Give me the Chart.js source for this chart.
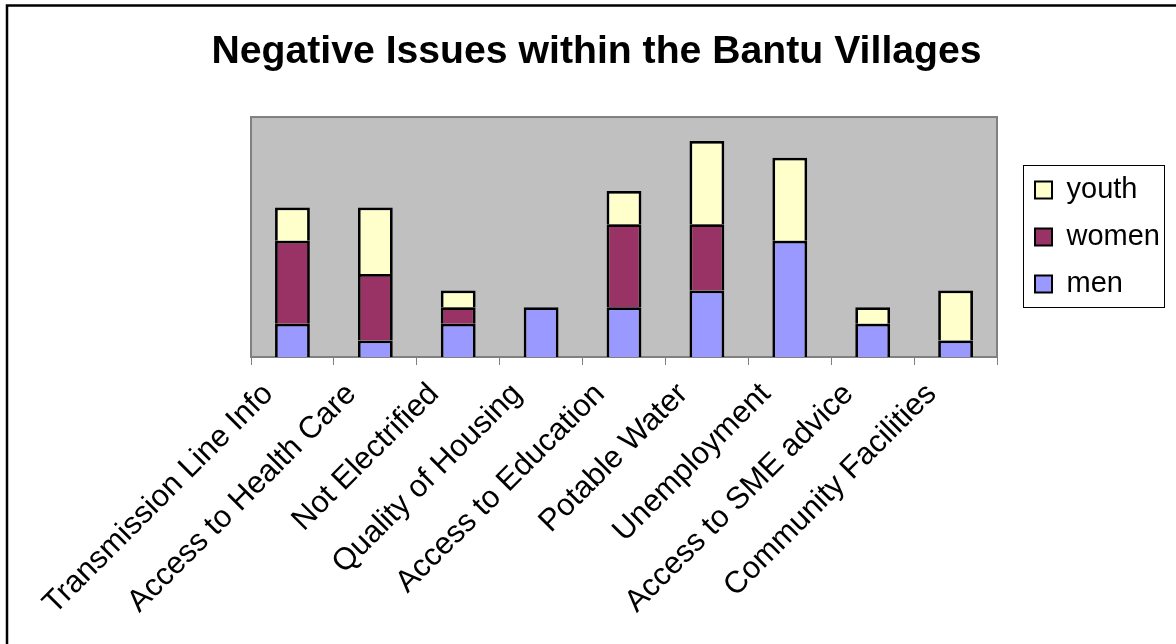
<!DOCTYPE html>
<html>
<head>
<meta charset="utf-8">
<script src="https://cdn.jsdelivr.net/npm/chart.js@4/dist/chart.umd.min.js"></script>
<style>
  html, body { margin: 0; padding: 0; background: #ffffff; }
  #wrap { width: 1176px; height: 644px; position: relative; }
</style>
</head>
<body>
<div id="wrap"><canvas id="c" width="1176" height="644"></canvas></div>
<script>
const titleText = "Negative Issues within the Bantu Villages";
const categories = [
  "Transmission Line Info",
  "Access to Health Care",
  "Not Electrified",
  "Quality of Housing",
  "Access to Education",
  "Potable Water",
  "Unemployment",
  "Access to SME advice",
  "Community Facilities"
];
const seriesNames = ["men", "women", "youth"];
const menValues   = [2, 1, 2, 3, 3, 4, 7, 2, 1];
const womenValues = [5, 4, 1, 0, 5, 4, 0, 0, 0];
const youthValues = [2, 4, 1, 0, 2, 5, 5, 1, 3];
const yMax = 14.45;

const FONT = "'Liberation Sans', Arial, sans-serif";

const framePlugin = {
  id: 'framePlugin',
  beforeDraw(chart) {
    const ctx = chart.ctx;
    ctx.save();
    ctx.fillStyle = '#ffffff';
    ctx.fillRect(0, 0, chart.width, chart.height);
    ctx.strokeStyle = '#000000';
    ctx.lineWidth = 2.5;
    ctx.beginPath();
    ctx.moveTo(7, chart.height + 10);
    ctx.lineTo(7, 5.5);
    ctx.lineTo(chart.width + 10, 5.5);
    ctx.stroke();
    ctx.restore();
  },
  beforeDatasetsDraw(chart) {
    const a = chart.chartArea;
    const ctx = chart.ctx;
    ctx.save();
    ctx.fillStyle = '#C0C0C0';
    ctx.fillRect(a.left, a.top, a.right - a.left, a.bottom - a.top);
    ctx.strokeStyle = '#808080';
    ctx.lineWidth = 2;
    ctx.strokeRect(a.left, a.top, a.right - a.left, a.bottom - a.top);
    ctx.restore();
  },
  afterDraw(chart) {
    const lg = chart.legend;
    if (!lg) return;
    const ctx = chart.ctx;
    ctx.save();
    ctx.strokeStyle = '#000000';
    ctx.lineWidth = 1;
    const midY = (lg.top + lg.bottom) / 2;
    ctx.strokeRect(Math.round(lg.left + 6) + 0.5, Math.round(midY - 72) + 0.5, 141, 142);
    ctx.restore();
  }
};

new Chart(document.getElementById('c'), {
  type: 'bar',
  data: {
    labels: categories,
    datasets: [
      { label: seriesNames[0], data: menValues,   backgroundColor: '#9999FF' },
      { label: seriesNames[1], data: womenValues, backgroundColor: '#993366' },
      { label: seriesNames[2], data: youthValues, backgroundColor: '#FFFFCC' }
    ]
  },
  options: {
    responsive: false,
    animation: false,
    devicePixelRatio: 1,
    layout: { padding: { left: 23, right: 6, top: 0, bottom: 0 } },
    datasets: {
      bar: {
        borderColor: '#000000',
        borderWidth: 2.75,
        borderSkipped: 'start',
        categoryPercentage: 1,
        barPercentage: 0.42
      }
    },
    scales: {
      x: {
        stacked: true,
        grid: {
          display: true,
          drawOnChartArea: false,
          drawTicks: true,
          tickLength: 8,
          offset: true,
          color: '#808080',
          lineWidth: 1
        },
        border: { display: true, color: '#808080', width: 1 },
        ticks: {
          autoSkip: false,
          minRotation: 45,
          maxRotation: 45,
          color: '#000000',
          padding: 11,
          labelOffset: -24,
          font: { family: FONT, size: 31 }
        },
        afterFit(scale) { scale.height = 287; }
      },
      y: {
        stacked: true,
        position: 'left',
        min: 0,
        max: yMax,
        grid: { display: false },
        border: { display: false },
        ticks: { display: false },
        afterFit(scale) { scale.width = 228; }
      },
      y2: {
        position: 'right',
        min: 0,
        max: yMax,
        grid: { display: false },
        border: { display: false },
        ticks: { display: false },
        afterFit(scale) { scale.width = 20; }
      }
    },
    plugins: {
      title: {
        display: true,
        text: titleText,
        color: '#000000',
        font: { family: FONT, size: 39.2, weight: 'bold', lineHeight: 1.2 },
        padding: { top: 29, bottom: 41 }
      },
      legend: {
        display: true,
        position: 'right',
        align: 'center',
        fullSize: false,
        reverse: true,
        labels: {
          boxWidth: 17,
          boxHeight: 17,
          padding: 18,
          color: '#000000',
          font: { family: FONT, size: 29 },
          generateLabels(chart) {
            return chart.data.datasets.map((ds, i) => ({
              text: ds.label,
              fillStyle: ds.backgroundColor,
              strokeStyle: '#000000',
              lineWidth: 2,
              hidden: false,
              datasetIndex: i
            }));
          }
        }
      },
      tooltip: { enabled: false }
    }
  },
  plugins: [framePlugin]
});
</script>
</body>
</html>
